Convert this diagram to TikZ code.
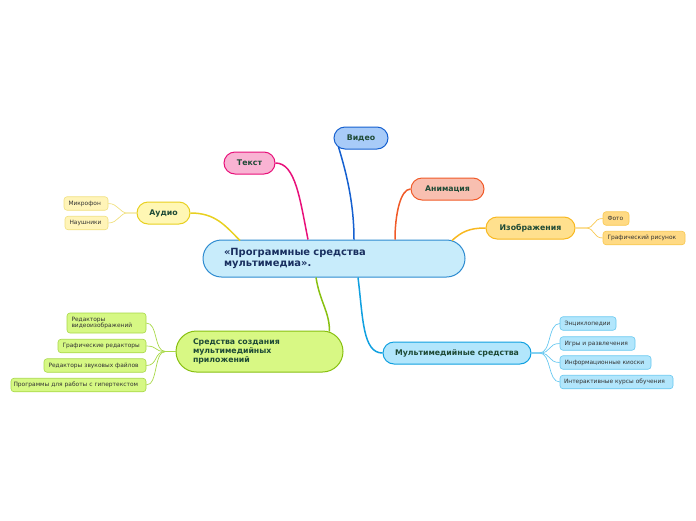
\documentclass[tikz,border=0pt]{standalone}
\usepackage{fontspec}
\setmainfont{DejaVu Sans}
\usetikzlibrary{calc}
\definecolor{ttxt}{HTML}{1E4A36}
\definecolor{ctxt}{HTML}{1A3060}
\definecolor{ltxt}{HTML}{333333}
\definecolor{cfill}{HTML}{C8ECFB}\definecolor{cdraw}{HTML}{2D8BD0}
\definecolor{vfill}{HTML}{A8CBF8}\definecolor{vdraw}{HTML}{1560D0}
\definecolor{tfill}{HTML}{F9B3D3}\definecolor{tdraw}{HTML}{E8107A}
\definecolor{afill}{HTML}{F8BFB0}\definecolor{adraw}{HTML}{F05A28}
\definecolor{ifill}{HTML}{FFE08E}\definecolor{idraw}{HTML}{F8B820}
\definecolor{ufill}{HTML}{FFF7B4}\definecolor{udraw}{HTML}{E8D020}
\definecolor{sfill}{HTML}{D8F884}\definecolor{sdraw}{HTML}{88C010}
\definecolor{mfill}{HTML}{B2E6FC}\definecolor{mdraw}{HTML}{10A0E0}
\definecolor{ilfill}{HTML}{FFDA84}\definecolor{ildraw}{HTML}{F8C850}
\definecolor{ulfill}{HTML}{FFF4B8}\definecolor{uldraw}{HTML}{F0E080}
\definecolor{slfill}{HTML}{D6F884}\definecolor{sldraw}{HTML}{A8D848}
\definecolor{mlfill}{HTML}{B2E6FC}\definecolor{mldraw}{HTML}{68C8F0}
\tikzset{
  topic/.style={draw, line width=1pt, rounded corners=11pt, minimum height=22pt, inner sep=0pt,
    font=\fontsize{7.8}{9}\selectfont\bfseries, text=ttxt},
  leaf/.style={draw, line width=0.6pt, rounded corners=3pt, minimum height=13.5pt, inner xsep=4.5pt, inner ysep=0pt,
    align=left, font=\fontsize{5.9}{6.9}\selectfont, text=ltxt},
  main/.style={line width=1.5pt},
  sub/.style={line width=0.7pt},
}
\begin{document}
\begin{tikzpicture}[x=1pt,y=-1pt]
\useasboundingbox (0,0) rectangle (696,520);
% central
\node[draw=cdraw, fill=cfill, line width=1pt, rounded corners=18.5pt, minimum width=262pt, minimum height=37pt,
  text width=220pt, inner xsep=21pt, inner ysep=0pt, align=left, text=ctxt,
  font=\fontsize{9.9}{11.5}\selectfont\bfseries] (c) at (334,258.5) {«Программные средства\\мультимедиа».};
% topics
\node[topic, draw=vdraw, fill=vfill, minimum width=54pt] (video) at (361,138) {Видео};
\node[topic, draw=tdraw, fill=tfill, minimum width=51pt] (text) at (249.5,163) {Текст};
\node[topic, draw=adraw, fill=afill, minimum width=73pt] (anim) at (447.5,189) {Анимация};
\node[topic, draw=idraw, fill=ifill, minimum width=89pt] (izo) at (530.5,228) {Изображения};
\node[topic, draw=udraw, fill=ufill, minimum width=53pt] (audio) at (163.5,213) {Аудио};
\node[topic, draw=mdraw, fill=mfill, minimum width=148pt] (multi) at (457,353) {Мультимедийные средства};
\node[topic, draw=sdraw, fill=sfill, rounded corners=20.5pt, minimum width=167pt, minimum height=41pt,
  text width=133pt, inner xsep=17pt, align=left, font=\fontsize{7.8}{8.6}\selectfont\bfseries]
  (sred) at (259.5,351.5) {Средства создания\\мультимедийных\\приложений};
% leaves
\node[leaf, draw=uldraw, fill=ulfill, text width=35pt] (mic) at (86,203.5) {Микрофон};
\node[leaf, draw=uldraw, fill=ulfill, text width=34pt] (nau) at (86.5,223) {Наушники};
\node[leaf, draw=ildraw, fill=ilfill, text width=17pt] (foto) at (616,218.5) {Фото};
\node[leaf, draw=ildraw, fill=ilfill, text width=73pt] (graf) at (644,238) {Графический рисунок};
\node[leaf, draw=mldraw, fill=mlfill, text width=47pt] (enc) at (588,323.5) {Энциклопедии};
\node[leaf, draw=mldraw, fill=mlfill, text width=66pt] (igr) at (597.5,343.5) {Игры и развлечения};
\node[leaf, draw=mldraw, fill=mlfill, text width=82pt] (inf) at (605.5,362.5) {Информационные киоски};
\node[leaf, draw=mldraw, fill=mlfill, text width=105pt, inner xsep=4pt] (int) at (616.5,382) {Интерактивные курсы обучения};
\node[leaf, draw=sldraw, fill=slfill, minimum height=20pt, text width=70pt,
  font=\fontsize{5.9}{6.6}\selectfont] (red) at (106.5,323) {Редакторы\\видеоизображений};
\node[leaf, draw=sldraw, fill=slfill, text width=79pt] (grr) at (102,346) {Графические редакторы};
\node[leaf, draw=sldraw, fill=slfill, text width=93pt] (zvuk) at (95,365.5) {Редакторы звуковых файлов};
\node[leaf, draw=sldraw, fill=slfill, text width=130pt, inner xsep=2.5pt] (prog) at (78.5,385) {\mbox{Программы для работы с гипертекстом}};
% main connectors
\draw[main, draw=tdraw] (text.east) .. controls +(20,0) and +(-8,-40) .. ($(c.north)+(-26,0)$);
\draw[main, draw=vdraw] ($(video.west)+(5,9)$) .. controls +(6,20) and +(0,-40) .. ($(c.north)+(20,0)$);
\draw[main, draw=adraw] (anim.west) .. controls +(-10,0) and +(0,-25) .. ($(c.north)+(61,0)$);
\draw[main, draw=idraw] ($(c.north)+(118,1)$) .. controls +(10,-9) and +(-16,0) .. (izo.west);
\draw[main, draw=udraw] (audio.east) .. controls +(25,0) and +(-15,-15) .. ($(c.north)+(-94,1)$);
\draw[main, draw=sdraw] ($(c.south)+(-18,0)$) .. controls +(4,25) and +(0,-20) .. ($(sred.north)+(70,1)$);
\draw[main, draw=mdraw] ($(c.south)+(24,0)$) .. controls +(5,40) and +(-20,0) .. (multi.west);
% leaf connectors
\foreach \l in {mic,nau}
  \draw[sub, draw=uldraw] (audio.west) -- +(-9,0) .. controls +(-8,0) and +(10,0) .. (\l.east);
\foreach \l in {foto,graf}
  \draw[sub, draw=ildraw] (izo.east) -- +(10,0) .. controls +(10,0) and +(-10,0) .. (\l.west);
\foreach \l in {enc,igr,inf,int}
  \draw[sub, draw=mldraw] (multi.east) -- +(8,0) .. controls +(12,0) and +(-12,0) .. (\l.west);
\foreach \l in {red,grr,zvuk,prog}
  \draw[sub, draw=sldraw] (sred.west) -- +(-10,0) .. controls +(-12,0) and +(12,0) .. (\l.east);
\end{tikzpicture}
\end{document}
